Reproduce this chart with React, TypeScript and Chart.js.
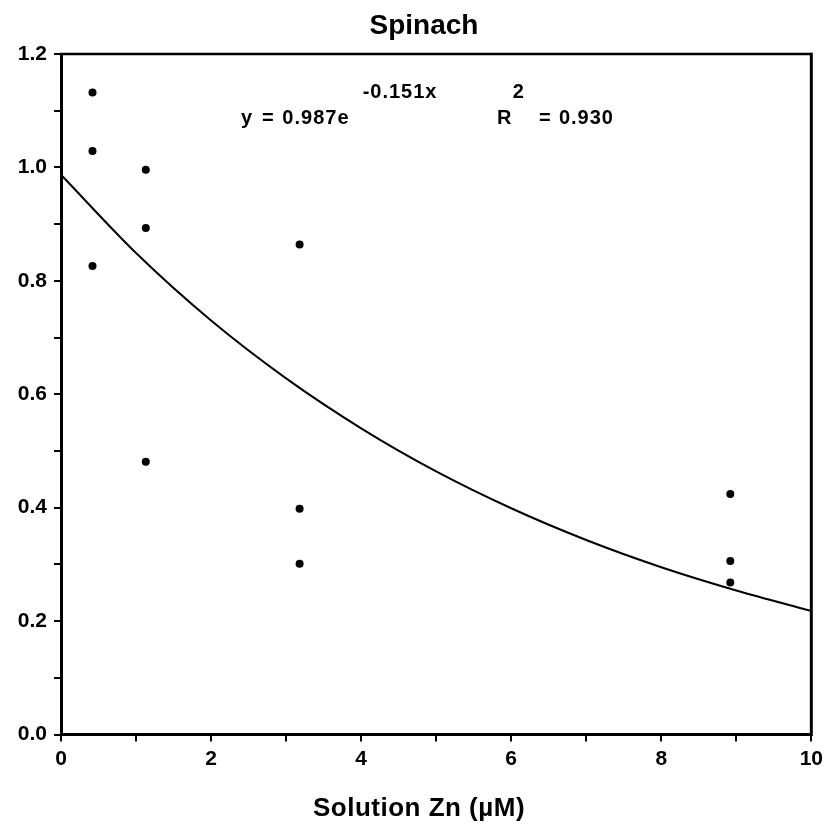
import React, { useEffect, useRef } from "react";
import { Chart, registerables } from "chart.js";

Chart.register(...registerables);

const TITLE = "Spinach";
const X_TITLE = "Solution Zn (\u00B5M)";

// observed data points
const pointX = [0.42, 0.42, 0.42, 1.13, 1.13, 1.13, 3.18, 3.18, 3.18, 8.92, 8.92, 8.92];
const pointY = [1.132, 1.029, 0.826, 0.996, 0.893, 0.481, 0.864, 0.398, 0.301, 0.424, 0.306, 0.268];

// fitted curve (y = 0.987e^-0.151x)
const curveX = [0, 1, 2, 3, 4, 5, 6, 7, 8, 9, 10];
const curveY = [0.987, 0.849, 0.73, 0.628, 0.54, 0.464, 0.399, 0.343, 0.295, 0.254, 0.218];

// axis ranges / ticks
const X_MIN = 0;
const X_MAX = 10;
const X_STEP = 1;
const Y_MIN = 0;
const Y_MAX = 1.2;
const Y_STEP = 0.1;

// equation annotation pieces
const EQ_Y = "y";
const EQ_EQ = "=";
const EQ_COEF = "0.987e";
const EQ_EXP = "-0.151x";
const R_LABEL = "R";
const R_EXP = "2";
const R_EQ = "=";
const R_VAL = "0.930";

const FONT = "'Liberation Sans', Arial, Helvetica, sans-serif";

export default function App() {
  const ref = useRef<HTMLCanvasElement | null>(null);

  useEffect(() => {
    document.body.style.margin = "0";
    const canvas = ref.current;
    if (!canvas) return;

    const framePlugin = {
      id: "framePlugin",
      afterDraw(chart: any) {
        const { ctx, chartArea: a, scales } = chart;
        const xs = scales.x;
        const ys = scales.y;
        ctx.save();
        ctx.strokeStyle = "#000";
        ctx.lineWidth = 2.5;
        ctx.beginPath();
        ctx.moveTo(a.left - 1.5, a.top);
        ctx.lineTo(a.right, a.top);
        ctx.stroke();
        ctx.lineWidth = 3;
        ctx.beginPath();
        ctx.moveTo(a.right, a.top - 1.25);
        ctx.lineTo(a.right, a.bottom + 1.5);
        ctx.stroke();

        ctx.fillStyle = "#000";
        // title
        ctx.font = `bold 28px ${FONT}`;
        ctx.textAlign = "center";
        ctx.textBaseline = "alphabetic";
        ctx.fillText(TITLE, 424, 33.5);
        // x axis title
        ctx.font = `bold 26px ${FONT}`;
        (ctx as any).letterSpacing = "0.5px";
        ctx.fillText(X_TITLE, 419, 816);

        // equation
        ctx.textAlign = "left";
        ctx.textBaseline = "middle";
        ctx.font = `bold 20px ${FONT}`;
        (ctx as any).letterSpacing = "1px";
        const mainY = ys.getPixelForValue(1.087);
        const supY = ys.getPixelForValue(1.133);
        ctx.fillText(EQ_Y, xs.getPixelForValue(2.4), mainY);
        ctx.fillText(EQ_EQ, xs.getPixelForValue(2.68), mainY);
        ctx.fillText(EQ_COEF, xs.getPixelForValue(2.95), mainY);
        ctx.fillText(EQ_EXP, xs.getPixelForValue(4.02), supY);
        ctx.fillText(R_LABEL, xs.getPixelForValue(5.81), mainY);
        ctx.textAlign = "center";
        ctx.fillText(R_EXP, xs.getPixelForValue(6.1), supY);
        ctx.textAlign = "left";
        ctx.fillText(R_EQ, xs.getPixelForValue(6.37), mainY);
        ctx.textAlign = "right";
        ctx.fillText(R_VAL, xs.getPixelForValue(7.37), mainY);
        ctx.restore();
      },
    };

    const chart = new Chart(canvas, {
      type: "scatter",
      data: {
        datasets: [
          {
            type: "line",
            data: curveX.map((x, i) => ({ x, y: curveY[i] })),
            borderColor: "#000",
            borderWidth: 2,
            pointRadius: 0,
            cubicInterpolationMode: "monotone",
            fill: false,
          } as any,
          {
            data: pointX.map((x, i) => ({ x, y: pointY[i] })),
            backgroundColor: "#000",
            borderColor: "#000",
            pointRadius: 4,
            borderWidth: 0,
          },
        ],
      },
      options: {
        responsive: false,
        animation: false,
        devicePixelRatio: 1,
        layout: { padding: { left: 0, top: 54, right: 14.5, bottom: 0 } },
        plugins: {
          legend: { display: false },
          title: { display: false },
          tooltip: { enabled: false },
        },
        scales: {
          x: {
            type: "linear",
            min: X_MIN,
            max: X_MAX,
            afterFit: (s: any) => {
              s.height = 91.5;
            },
            border: { display: true, color: "#000", width: 3 },
            grid: {
              display: true,
              drawOnChartArea: false,
              drawTicks: true,
              tickLength: 7,
              color: "#000",
              lineWidth: 2,
            },
            ticks: {
              stepSize: X_STEP,
              color: "#000",
              padding: 5,
              maxRotation: 0,
              autoSkip: false,
              font: { family: FONT, size: 21, weight: "bold" },
              callback: (v: any) => (Math.round(Number(v)) % 2 === 0 ? String(Math.round(Number(v))) : ""),
            },
          },
          y: {
            type: "linear",
            min: Y_MIN,
            max: Y_MAX,
            afterFit: (s: any) => {
              s.width = 61;
            },
            border: { display: true, color: "#000", width: 3 },
            grid: {
              display: true,
              drawOnChartArea: false,
              drawTicks: true,
              tickLength: 7,
              color: "#000",
              lineWidth: 2,
            },
            ticks: {
              stepSize: Y_STEP,
              color: "#000",
              padding: 7,
              autoSkip: false,
              font: { family: FONT, size: 21, weight: "bold" },
              callback: (v: any) => {
                const n = Math.round(Number(v) * 10);
                return n % 2 === 0 ? (n / 10).toFixed(1) : "";
              },
            },
          },
        },
      },
      plugins: [framePlugin],
    } as any);

    return () => chart.destroy();
  }, []);

  return <canvas ref={ref} width={828} height={826} style={{ display: "block", width: 828, height: 826 }} />;
}
